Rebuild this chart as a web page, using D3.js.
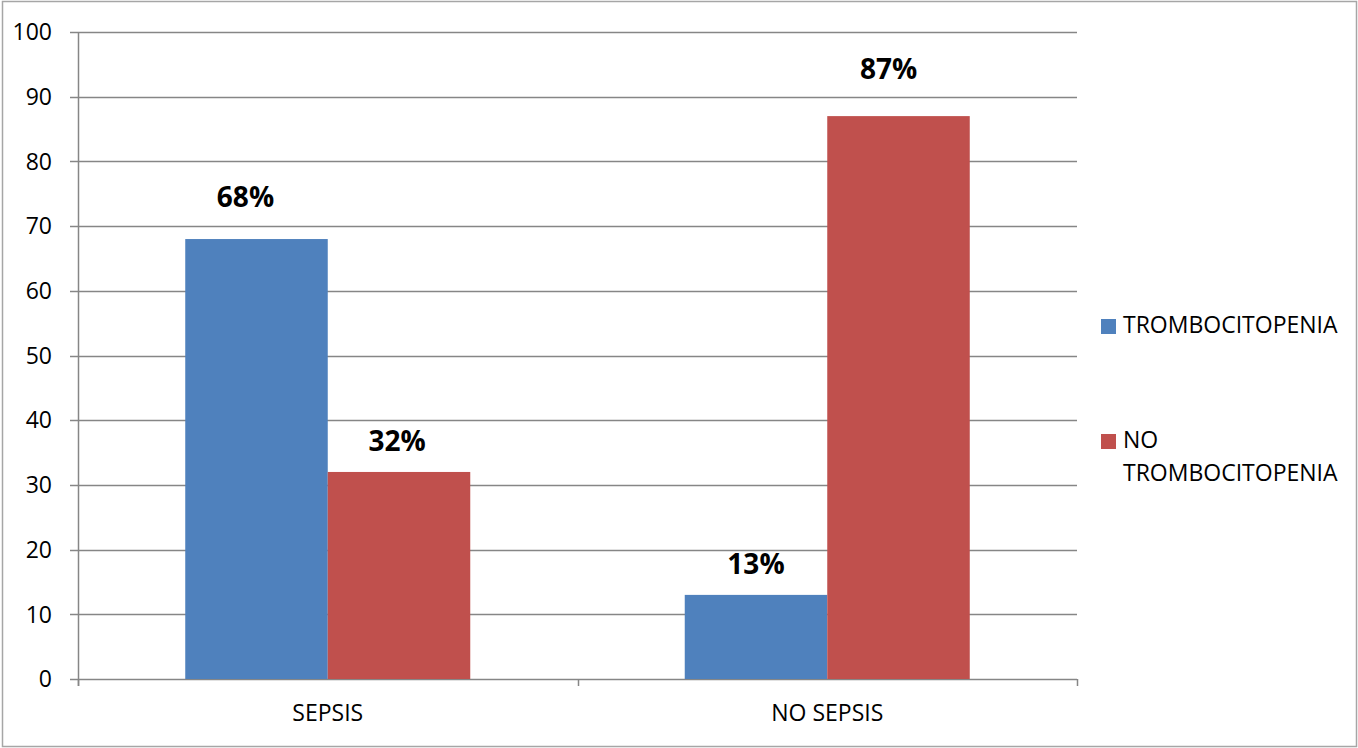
<!DOCTYPE html>
<html>
<head>
<meta charset="utf-8">
<script src="https://cdn.jsdelivr.net/npm/d3@7"></script>
<style>
  body { margin: 0; background: #fff; }
  svg text { font-family: "Open Sans", sans-serif; fill: #000; }
</style>
</head>
<body>
<svg width="1358" height="748"></svg>
<script>
// data
var categories = ["SEPSIS", "NO SEPSIS"];
var series = ["TROMBOCITOPENIA", "NO TROMBOCITOPENIA"];
var trombocitopenia = [68, 13];
var noTrombocitopenia = [32, 87];
var yTicks = [0, 10, 20, 30, 40, 50, 60, 70, 80, 90, 100];

// labels were nudged by hand in the original chart
var labelNudge = [[-11, -32], [-2, -21], [0, -21], [-10, -37]];

var colors = ["#4F81BD", "#C0504D"];

var svg = d3.select("svg");

// outer border
svg.append("rect")
	.attr("x", 2.5).attr("y", 1.5)
	.attr("width", 1354).attr("height", 745)
	.attr("fill", "#fff")
	.attr("stroke", "#a6a6a6")
	.attr("stroke-width", 1.5);

var plotLeft = 78, plotRight = 1077, plotTop = 32, plotBottom = 679;

var x0 = d3.scaleBand().domain(categories).range([plotLeft, plotRight]).padding(0);
var x1 = d3.scaleBand().domain(series).range([0, x0.bandwidth()]).paddingInner(0).paddingOuter(0.7526);
var y = d3.scaleLinear().domain([0, 100]).range([plotBottom, plotTop]);

// gridlines
svg.append("g")
	.selectAll("line")
	.data(yTicks)
	.enter()
	.append("line")
	.attr("x1", plotLeft - 8)
	.attr("x2", plotRight)
	.attr("y1", (d) => Math.round(y(d)) + 0.5)
	.attr("y2", (d) => Math.round(y(d)) + 0.5)
	.style("stroke", "#868686")
	.style("stroke-width", 1.5);

// y axis line
svg.append("line")
	.attr("x1", plotLeft + 0.5).attr("x2", plotLeft + 0.5)
	.attr("y1", plotTop).attr("y2", plotBottom + 7)
	.style("stroke", "#868686").style("stroke-width", 1.5);

// bottom ticks between categories
var xTickPos = [plotLeft, plotLeft + x0.step(), plotRight];
svg.append("g")
	.selectAll("line")
	.data(xTickPos)
	.enter()
	.append("line")
	.attr("x1", (d) => Math.round(d) + 0.5)
	.attr("x2", (d) => Math.round(d) + 0.5)
	.attr("y1", plotBottom)
	.attr("y2", plotBottom + 7)
	.style("stroke", "#868686").style("stroke-width", 1.5);

// y tick labels
svg.append("g")
	.selectAll("text")
	.data(yTicks)
	.enter()
	.append("text")
	.attr("x", 52)
	.attr("y", (d) => y(d))
	.attr("dy", "0.36em")
	.attr("text-anchor", "end")
	.style("font-size", "23px")
	.text((d) => d);

// bars
var rows = [];
categories.forEach(function (c, i) {
	rows.push({ cat: c, s: series[0], v: trombocitopenia[i], col: colors[0] });
	rows.push({ cat: c, s: series[1], v: noTrombocitopenia[i], col: colors[1] });
});

svg.append("g")
	.selectAll("rect")
	.data(rows)
	.enter()
	.append("rect")
	.attr("x", (d) => x0(d.cat) + x1(d.s))
	.attr("y", (d) => y(d.v))
	.attr("width", x1.bandwidth())
	.attr("height", (d) => y(0) - y(d.v))
	.style("fill", (d) => d.col);

// data labels
svg.append("g")
	.selectAll("text")
	.data(rows)
	.enter()
	.append("text")
	.attr("x", (d, i) => x0(d.cat) + x1(d.s) + x1.bandwidth() / 2 + labelNudge[i][0])
	.attr("y", (d, i) => y(d.v) + labelNudge[i][1])
	.attr("text-anchor", "middle")
	.style("font-size", "28px")
	.style("font-weight", "bold")
	.text((d) => d.v + "%");

// category labels
svg.append("g")
	.selectAll("text")
	.data(categories)
	.enter()
	.append("text")
	.attr("x", (d) => x0(d) + x0.bandwidth() / 2)
	.attr("y", 721)
	.attr("text-anchor", "middle")
	.style("font-size", "23px")
	.text((d) => d);

// legend
var legendLines = [["TROMBOCITOPENIA"], ["NO", "TROMBOCITOPENIA"]];
var legend = svg.append("g")
	.selectAll("g")
	.data(series)
	.enter()
	.append("g")
	.attr("transform", (d, i) => "translate(1101," + (319 + i * 115) + ")");

legend.append("rect")
	.attr("width", 15)
	.attr("height", 15)
	.style("fill", (d, i) => colors[i]);

legend.each(function (d, i) {
	var t = d3.select(this).append("text")
		.attr("x", 22)
		.attr("y", 14)
		.style("font-size", "23px");
	legendLines[i].forEach(function (line, j) {
		t.append("tspan")
			.attr("x", 22)
			.attr("y", 14 + j * 33)
			.text(line);
	});
});
</script>
</body>
</html>
